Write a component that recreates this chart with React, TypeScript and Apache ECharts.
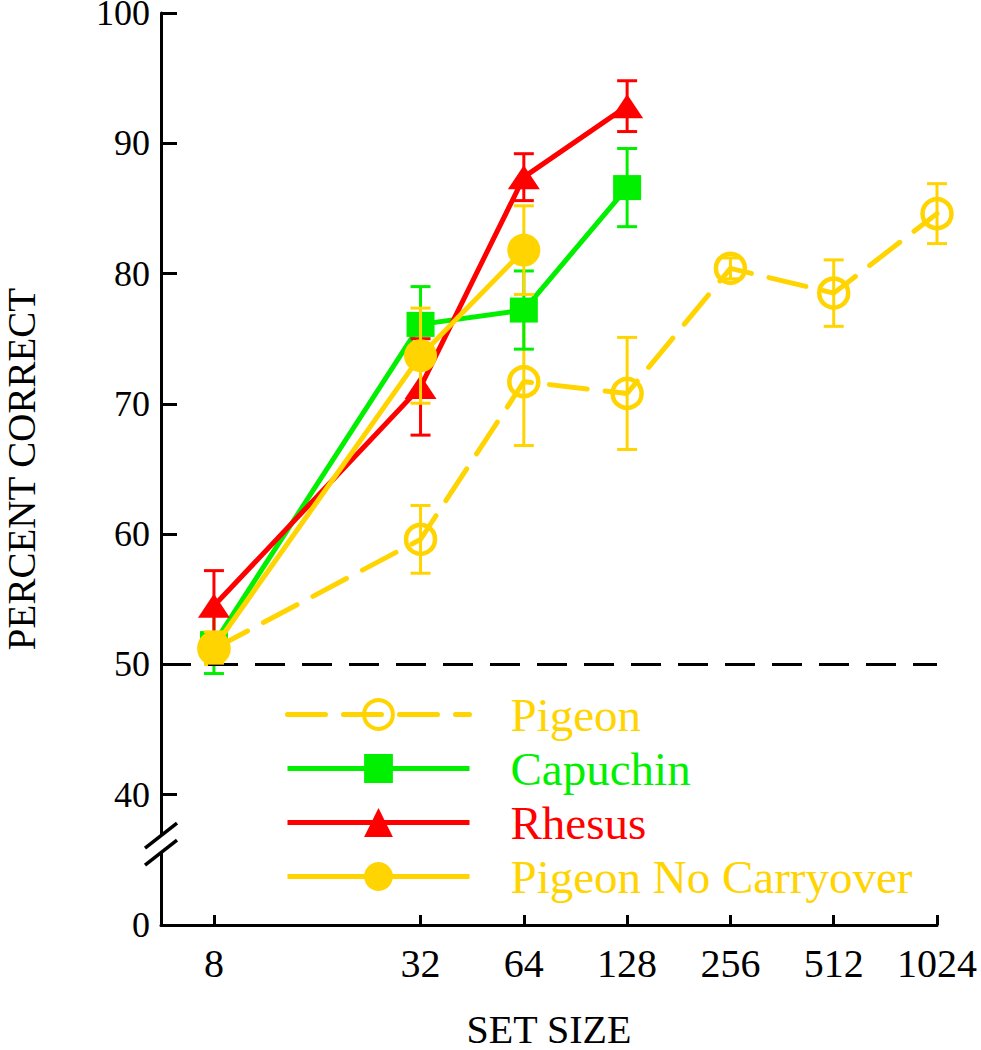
import React, { useEffect, useRef } from "react";
import * as echarts from "echarts";

const setSizes = [8, 32, 64, 128, 256, 512, 1024];
const xTickSizes = [8, 32, 64, 128, 256, 512, 1024];

const pigeonMean = [51.2, 59.6, 71.7, 70.8, 80.4, 78.5, 84.6];
const pigeonErr = [1.2, 2.6, 4.9, 4.3, 0.8, 2.55, 2.3];

const capuchinSizes = [8, 32, 64, 128];
const capuchinMean = [51.6, 76.1, 77.2, 86.6];
const capuchinErr = [2.3, 2.9, 3.0, 3.0];

const rhesusSizes = [8, 32, 64, 128];
const rhesusMean = [54.5, 71.3, 87.4, 92.85];
const rhesusErr = [2.7, 3.7, 1.8, 1.95];

const pncSizes = [8, 32, 64];
const pncMean = [51.3, 73.7, 81.8];
const pncErr = [1.2, 3.65, 3.4];

const chanceLevel = 50;
const yTickLabels = ["0", "40", "50", "60", "70", "80", "90", "100"];

const YELLOW = "#FFD400";
const GREEN = "#00F000";
const RED = "#FF0000";
const FONT = "'Liberation Serif', 'DejaVu Serif', serif";

const X_MIN = 2.4874;
const X_MAX = 10;
const Y_MIN = 30;
const Y_MAX = 100;
const BREAK_VALUE = 36.2;

function pts(sizes: number[], mean: number[]) {
  return sizes.map((s, i) => [Math.log2(s), mean[i]]);
}
function errs(sizes: number[], mean: number[], err: number[]) {
  return sizes.map((s, i) => [Math.log2(s), mean[i] - err[i], mean[i] + err[i]]);
}

function errorSeries(name: string, data: number[][], color: string, z: number) {
  return {
    type: "custom",
    name,
    z,
    silent: true,
    data,
    renderItem: (params: any, api: any) => {
      const x = api.value(0);
      const lo = api.value(1);
      const hi = api.value(2);
      const p1 = api.coord([x, hi]);
      const p2 = api.coord([x, lo]);
      const hw = 10;
      const style = { stroke: color, lineWidth: 3 };
      return {
        type: "group",
        children: [
          { type: "line", shape: { x1: p1[0], y1: p1[1], x2: p2[0], y2: p2[1] }, style },
          { type: "line", shape: { x1: p1[0] - hw, y1: p1[1], x2: p1[0] + hw, y2: p1[1] }, style },
          { type: "line", shape: { x1: p2[0] - hw, y1: p2[1], x2: p2[0] + hw, y2: p2[1] }, style },
        ],
      };
    },
  };
}

export default function App() {
  const ref = useRef<HTMLDivElement>(null);
  useEffect(() => {
    if (!ref.current) return;
    const chart = echarts.init(ref.current, null, { renderer: "svg" });
    const option: any = {
      animation: false,
      backgroundColor: "#ffffff",
      grid: { left: 161, right: 44, top: 13, bottom: 125, containLabel: false, outerBoundsMode: "none" },
      xAxis: {
        type: "value",
        min: X_MIN,
        max: X_MAX,
        name: "SET SIZE",
        nameLocation: "middle",
        nameGap: 89,
        nameTextStyle: { fontFamily: FONT, fontSize: 40, lineHeight: 30, color: "#000" },
        axisLine: { show: true, lineStyle: { color: "#000", width: 3 } },
        axisTick: {
          show: true,
          inside: true,
          length: 10,
          lineStyle: { color: "#000", width: 3 },
          customValues: xTickSizes.map((s) => Math.log2(s)),
        },
        axisLabel: {
          fontFamily: FONT,
          fontSize: 40,
          color: "#000",
          margin: 18,
          customValues: xTickSizes.map((s) => Math.log2(s)),
          formatter: (v: number) => String(Math.round(Math.pow(2, v))),
        },
        splitLine: { show: false },
      },
      yAxis: {
        type: "value",
        min: Y_MIN,
        max: Y_MAX,
        interval: 10,
        name: "PERCENT CORRECT",
        nameLocation: "middle",
        nameRotate: 90,
        nameGap: 125,
        nameTextStyle: { fontFamily: FONT, fontSize: 39, lineHeight: 30, color: "#000" },
        axisLine: { show: true, lineStyle: { color: "#000", width: 3 } },
        axisTick: { show: true, inside: true, length: 16, lineStyle: { color: "#000", width: 3 } },
        axisLabel: {
          fontFamily: FONT,
          fontSize: 36,
          lineHeight: 22,
          color: "#000",
          margin: 11,
          formatter: (v: number) => yTickLabels[Math.round((v - Y_MIN) / 10)],
        },
        splitLine: { show: false },
      },
      legend: {
        orient: "vertical",
        left: 280,
        top: 686,
        itemWidth: 182,
        itemHeight: 36,
        itemGap: 7,
        selectedMode: false,
        lineStyle: { width: 5 },
        textStyle: { fontFamily: FONT, fontSize: 47, lineHeight: 44, padding: [0, 0, 0, 36] },
        data: [
          { name: "Pigeon", textStyle: { color: YELLOW }, itemStyle: { borderWidth: 4, borderColor: YELLOW, color: "rgba(255,255,255,0)" } },
          { name: "Capuchin", textStyle: { color: GREEN } },
          { name: "Rhesus", textStyle: { color: RED } },
          { name: "Pigeon No Carryover", textStyle: { color: YELLOW } },
        ],
      },
      series: [
        {
          type: "line",
          name: "Pigeon",
          z: 2,
          data: pts(setSizes, pigeonMean),
          symbol: "circle",
          symbolSize: 29,
          itemStyle: { color: "rgba(255,255,255,0)", borderColor: YELLOW, borderWidth: 4.5 },
          lineStyle: { color: YELLOW, width: 5, type: [38, 18], cap: "round" },
          markLine: {
            silent: true,
            symbol: ["none", "none"],
            label: { show: false },
            lineStyle: { color: "#000", width: 3, type: [30, 17] },
            data: [{ yAxis: chanceLevel }],
          },
        },
        errorSeries("Pigeon SE", errs(setSizes, pigeonMean, pigeonErr), YELLOW, 2),
        {
          type: "line",
          name: "Capuchin",
          z: 3,
          data: pts(capuchinSizes, capuchinMean),
          symbol: "rect",
          symbolSize: [28, 25],
          itemStyle: { color: GREEN },
          lineStyle: { color: GREEN, width: 5 },
        },
        errorSeries("Capuchin SE", errs(capuchinSizes, capuchinMean, capuchinErr), GREEN, 3),
        {
          type: "line",
          name: "Rhesus",
          z: 4,
          data: pts(rhesusSizes, rhesusMean),
          symbol: "triangle",
          symbolSize: [32, 24],
          itemStyle: { color: RED },
          lineStyle: { color: RED, width: 5 },
        },
        errorSeries("Rhesus SE", errs(rhesusSizes, rhesusMean, rhesusErr), RED, 4),
        {
          type: "line",
          name: "Pigeon No Carryover",
          z: 5,
          data: pts(pncSizes, pncMean),
          symbol: "circle",
          symbolSize: 33,
          itemStyle: { color: YELLOW },
          lineStyle: { color: YELLOW, width: 5 },
        },
        errorSeries("Pigeon No Carryover SE", errs(pncSizes, pncMean, pncErr), YELLOW, 5),
      ],
    };
    chart.setOption(option);

    const p = chart.convertToPixel({ gridIndex: 0 }, [X_MIN, BREAK_VALUE]) as number[];
    const ax = p[0];
    const cy = p[1];
    const dx = 16;
    const dy = 12.5;
    const off = 8.5;
    chart.setOption({
      graphic: [
        {
          type: "polygon",
          z: 100,
          shape: {
            points: [
              [ax - dx, cy - off + dy],
              [ax + dx, cy - off - dy],
              [ax + dx, cy + off - dy],
              [ax - dx, cy + off + dy],
            ],
          },
          style: { fill: "#fff" },
        },
        {
          type: "line",
          z: 101,
          shape: { x1: ax - dx, y1: cy - off + dy, x2: ax + dx, y2: cy - off - dy },
          style: { stroke: "#000", lineWidth: 3.5 },
        },
        {
          type: "line",
          z: 101,
          shape: { x1: ax - dx, y1: cy + off + dy, x2: ax + dx, y2: cy + off - dy },
          style: { stroke: "#000", lineWidth: 3.5 },
        },
      ],
    });

    return () => chart.dispose();
  }, []);
  return (
    <div
      ref={ref}
      style={{ position: "fixed", left: 0, top: 0, width: 981, height: 1050, background: "#fff" }}
    />
  );
}
